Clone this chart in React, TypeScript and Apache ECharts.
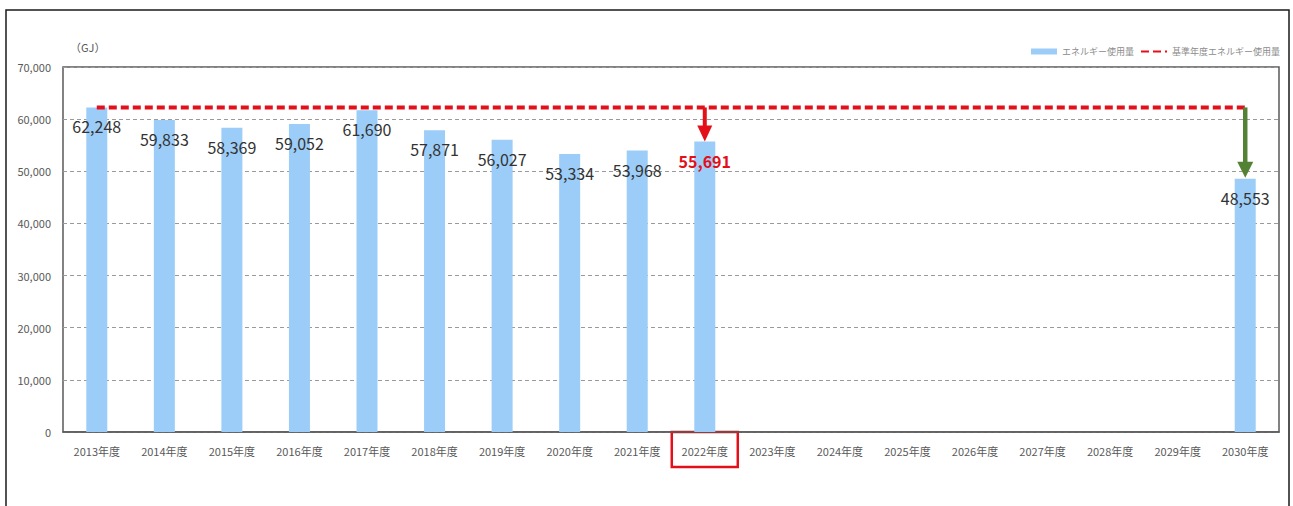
import React, { useEffect, useRef } from "react";
import * as echarts from "echarts";

const categories = [
  "2013年度", "2014年度", "2015年度", "2016年度", "2017年度", "2018年度",
  "2019年度", "2020年度", "2021年度", "2022年度", "2023年度", "2024年度",
  "2025年度", "2026年度", "2027年度", "2028年度", "2029年度", "2030年度",
];
const usage: (number | null)[] = [
  62248, 59833, 58369, 59052, 61690, 57871, 56027, 53334, 53968, 55691,
  null, null, null, null, null, null, null, 48553,
];
const baseYear = "2013年度";
const baseValue = 62248;
const currentYear = "2022年度";
const currentValue = 55691;
const targetYear = "2030年度";
const targetValue = 48553;
const yTicks = [0, 10000, 20000, 30000, 40000, 50000, 60000, 70000];

const FONT = "'Noto Sans CJK JP', 'Noto Sans', sans-serif";

export default function App() {
  const ref = useRef<HTMLDivElement>(null);
  useEffect(() => {
    if (!ref.current) return;
    const chart = echarts.init(ref.current, null, { renderer: "svg" });
    const barData = usage.map((v, i) => {
      if (categories[i] === currentYear) {
        return {
          value: v,
          label: { color: "#e3101a", fontWeight: "bold" },
        };
      }
      return v;
    });
    chart.setOption({
      animation: false,
      textStyle: { fontFamily: FONT },
      legend: {
        right: 8,
        top: 42,
        itemGap: 6,
        itemWidth: 26,
        itemHeight: 6,
        textStyle: { fontSize: 9, color: "#8c8c8c", fontFamily: FONT },
        data: [
          { name: "エネルギー使用量", icon: "rect" },
          { name: "基準年度エネルギー使用量", itemStyle: { opacity: 0 } },
        ],
      },
      grid: {
        left: 63,
        top: 67,
        right: 14,
        bottom: 74,
        show: true,
        borderColor: "#595959",
        borderWidth: 1.5,
      },
      xAxis: {
        type: "category",
        data: categories,
        axisTick: { show: false },
        axisLine: { lineStyle: { color: "#595959", width: 1.5 } },
        axisLabel: { color: "#595959", fontSize: 11, margin: 13, fontFamily: FONT },
      },
      yAxis: {
        type: "value",
        min: yTicks[0],
        max: yTicks[yTicks.length - 1],
        interval: 10000,
        axisLine: { show: false },
        axisTick: { show: false },
        axisLabel: {
          color: "#595959",
          fontSize: 11,
          margin: 12,
          fontFamily: FONT,
          formatter: (v: number) => v.toLocaleString("en-US"),
        },
        splitLine: { lineStyle: { color: "#9a9a9a", type: [4, 3], width: 1 } },
      },
      series: [
        {
          name: "エネルギー使用量",
          type: "bar",
          data: barData,
          barWidth: 21,
          itemStyle: { color: "#9ccdf9" },
          label: {
            show: true,
            position: "insideTop",
            distance: 11,
            fontSize: 16,
            color: "#333333",
            fontFamily: FONT,
            formatter: (p: any) => (p.value == null ? "" : Number(p.value).toLocaleString("en-US")),
          },
          z: 2,
        },
        {
          name: "基準年度エネルギー使用量",
          type: "line",
          data: [
            [baseYear, baseValue],
            [targetYear, baseValue],
          ],
          symbol: "none",
          lineStyle: { color: "#e3101a", width: 4, type: [8, 4] },
          itemStyle: { color: "#e3101a" },
          z: 3,
        },
      ],
    });
    const toPx = (cat: string, v: number) =>
      chart.convertToPixel({ xAxisIndex: 0, yAxisIndex: 0 } as any, [cat, v]) as number[];
    const rTop = toPx(currentYear, baseValue);
    const rBot = toPx(currentYear, currentValue);
    const gTop = toPx(targetYear, baseValue);
    const gBot = toPx(targetYear, targetValue);
    const redHead = 16;
    const greenHead = 16;
    chart.setOption({
      graphic: [
        {
          type: "rect",
          shape: { x: 6, y: 10, width: 1283, height: 520 },
          style: { fill: "none", stroke: "#1a1a1a", lineWidth: 1.5 },
          silent: true,
        },
        {
          type: "text",
          x: 70,
          y: 41,
          style: { text: "（GJ）", fontSize: 11, fill: "#595959", fontFamily: FONT },
        },
        {
          type: "line",
          shape: { x1: rTop[0], y1: rTop[1], x2: rBot[0], y2: rBot[1] - redHead + 2 },
          style: { stroke: "#e3101a", lineWidth: 4 },
          z: 10,
        },
        {
          type: "polygon",
          shape: {
            points: [
              [rBot[0] - 7.5, rBot[1] - redHead],
              [rBot[0] + 7.5, rBot[1] - redHead],
              [rBot[0], rBot[1]],
            ],
          },
          style: { fill: "#e3101a" },
          z: 10,
        },
        {
          type: "line",
          shape: { x1: gTop[0], y1: gTop[1], x2: gBot[0], y2: gBot[1] - greenHead + 2 },
          style: { stroke: "#548235", lineWidth: 4.5 },
          z: 10,
        },
        {
          type: "polygon",
          shape: {
            points: [
              [gBot[0] - 8, gBot[1] - greenHead - 1],
              [gBot[0] + 8, gBot[1] - greenHead - 1],
              [gBot[0], gBot[1] - 1],
            ],
          },
          style: { fill: "#548235" },
          z: 10,
        },
        {
          type: "rect",
          shape: { x: rBot[0] - 33, y: 432, width: 66, height: 35 },
          style: { fill: "none", stroke: "#e3101a", lineWidth: 2.5 },
          silent: true,
        },
      ],
    });
    return () => chart.dispose();
  }, []);
  return (
    <div
      ref={ref}
      style={{ position: "fixed", left: 0, top: 0, width: 1293, height: 506, background: "#fff" }}
    />
  );
}
